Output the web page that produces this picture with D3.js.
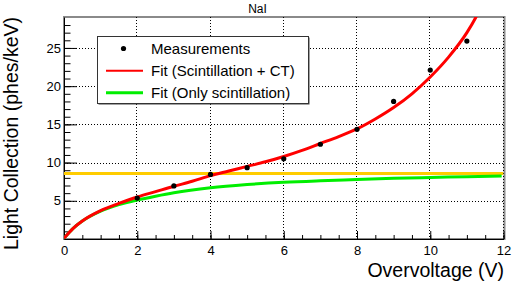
<!DOCTYPE html>
<html><head><meta charset="utf-8">
<script src="https://cdn.jsdelivr.net/npm/d3@7"></script>
<style>
html,body{margin:0;padding:0;background:#fff;}
svg{display:block;font-family:"Liberation Sans",Arial,sans-serif;}
</style></head>
<body>
<svg id="c" width="515" height="284"></svg>
<script>
// ---- data ----
const title = "NaI";
const xLabel = "Overvoltage (V)";
const yLabel = "Light Collection (phes/keV)";
const measX = [2, 3, 4, 5, 6, 7, 8, 9, 10, 11];
const measY = [5.35, 6.95, 8.45, 9.33, 10.5, 12.4, 14.35, 18.0, 22.1, 25.9];
const fitCtX = [0, 0.25, 0.5, 1, 1.5, 2, 2.5, 3, 3.5, 4, 4.5, 5, 5.5, 6, 6.5, 7, 7.5, 8, 8.5, 9, 9.5, 10, 10.5, 11, 11.25, 11.45];
const fitCtY = [0.1, 1.4, 2.35, 3.7, 4.65, 5.5, 6.2, 6.9, 7.55, 8.3, 8.9, 9.5, 10.1, 10.8, 11.6, 12.5, 13.4, 14.4, 15.7, 17.2, 19.0, 21.2, 23.8, 27.0, 29.05, 31.0];
const fitScX = [0, 0.25, 0.5, 1, 1.5, 2, 2.5, 3, 4, 5, 6, 7, 8, 9, 10, 11, 11.95];
const fitScY = [0.1, 1.4, 2.35, 3.65, 4.5, 5.1, 5.6, 6.05, 6.7, 7.12, 7.42, 7.62, 7.78, 7.95, 8.05, 8.15, 8.24];
const constY = [8.57];
const xMajor = [0, 2, 4, 6, 8, 10, 12];
const yMajor = [5, 10, 15, 20, 25];
const legendLabels = ["Measurements", "Fit (Scintillation + CT)", "Fit (Only scintillation)"];

// ---- layout ----
const svg = d3.select("#c");
const L = 64, R = 503.5, T = 17, B = 239;
const x = d3.scaleLinear().domain([0, 12]).range([L, R]);
const y = d3.scaleLinear().domain([0, 29.05]).range([B, T]);

svg.append("defs").append("clipPath").attr("id", "clip")
  .append("rect").attr("x", L).attr("y", T).attr("width", R - L).attr("height", B - T);

// frame border (grey)
svg.append("rect").attr("x", L).attr("y", T).attr("width", R - L + 1).attr("height", B - T)
  .attr("fill", "none").attr("stroke", "#8a8a8a").attr("stroke-width", 2);

// grid
const grid = svg.append("g").attr("stroke", "#000").attr("stroke-width", 1).attr("stroke-dasharray", "1,2");
grid.selectAll(".gx").data(xMajor.filter(d => d > 0)).join("line")
  .attr("x1", d => Math.round(x(d)) - 0.5).attr("x2", d => Math.round(x(d)) - 0.5)
  .attr("y1", T).attr("y2", B);
grid.selectAll(".gy").data(yMajor).join("line")
  .attr("y1", d => Math.round(y(d)) + 0.5).attr("y2", d => Math.round(y(d)) + 0.5)
  .attr("x1", L).attr("x2", R);

// axes
const xMinor = d3.range(0, 12.001, 0.5);
const yMinorT = d3.range(1, 29, 1);
const ax = svg.append("g").attr("transform", `translate(0,${B})`);
ax.call(d3.axisBottom(x).tickValues(xMinor).tickSize(-4).tickSizeOuter(0).tickFormat(""));
ax.call(g => g.selectAll("text").remove());
const ax2 = svg.append("g").attr("transform", `translate(0,${B})`)
  .call(d3.axisBottom(x).tickValues(xMajor).tickSize(-8).tickSizeOuter(0).tickPadding(4).tickFormat(d3.format("d")));
ax2.select(".domain").remove();
ax2.selectAll("text").attr("font-size", 13).attr("font-family", "Liberation Sans, Arial, sans-serif").attr("fill", "#000").attr("dy", "0.95em");

const ay = svg.append("g").attr("transform", `translate(${L},0)`);
ay.call(d3.axisLeft(y).tickValues(yMinorT).tickSize(-6.5).tickSizeOuter(0).tickFormat(""));
const ay2 = svg.append("g").attr("transform", `translate(${L},0)`)
  .call(d3.axisLeft(y).tickValues(yMajor).tickSize(-13).tickSizeOuter(0).tickPadding(3).tickFormat(d3.format("d")));
ay2.select(".domain").remove();
ay2.selectAll("text").attr("font-size", 13).attr("font-family", "Liberation Sans, Arial, sans-serif").attr("fill", "#000");
svg.selectAll(".tick line").attr("stroke", "#000");
svg.selectAll(".domain").attr("stroke", "#000");

// plot content
const plot = svg.append("g").attr("clip-path", "url(#clip)");
plot.append("line").attr("x1", x(0)).attr("x2", x(12)).attr("y1", y(constY[0])).attr("y2", y(constY[0]))
  .attr("stroke", "#ffcc00").attr("stroke-width", 3);
const line = d3.line().curve(d3.curveMonotoneX).x(d => x(d[0])).y(d => y(d[1]));
plot.append("path").datum(d3.zip(fitScX, fitScY)).attr("d", line)
  .attr("fill", "none").attr("stroke", "#00ee00").attr("stroke-width", 3);
plot.append("path").datum(d3.zip(fitCtX, fitCtY)).attr("d", line)
  .attr("fill", "none").attr("stroke", "#ff0000").attr("stroke-width", 3);
plot.selectAll(".pt").data(d3.zip(measX, measY)).join("circle")
  .attr("cx", d => x(d[0])).attr("cy", d => y(d[1])).attr("r", 2.6).attr("fill", "#000");

// legend
const lg = svg.append("g");
lg.append("rect").attr("x", 98.5).attr("y", 37.5).attr("width", 211).attr("height", 67)
  .attr("fill", "#444");
lg.append("rect").attr("x", 97.5).attr("y", 36.5).attr("width", 211).attr("height", 67)
  .attr("fill", "#fff").attr("stroke", "#333").attr("stroke-width", 1);
const rows = [48.5, 70.7, 92.7];
lg.append("circle").attr("cx", 123.5).attr("cy", rows[0]).attr("r", 2.6).attr("fill", "#000");
lg.append("line").attr("x1", 106).attr("x2", 143).attr("y1", rows[1]).attr("y2", rows[1]).attr("stroke", "#ff0000").attr("stroke-width", 2);
lg.append("line").attr("x1", 106).attr("x2", 143).attr("y1", rows[2]).attr("y2", rows[2]).attr("stroke", "#00ee00").attr("stroke-width", 3);
lg.selectAll(".lt").data(legendLabels).join("text")
  .attr("x", 151).attr("y", (d, i) => rows[i] + 5.3).attr("font-size", 15).attr("fill", "#000").text(d => d);

// titles
svg.append("text").attr("x", 257.5).attr("y", 12.5).attr("text-anchor", "middle").attr("font-size", 12).text(title);
svg.append("text").attr("x", 504).attr("y", 276.5).attr("text-anchor", "end").attr("font-size", 19.5).text(xLabel);
svg.append("text").attr("transform", "translate(17.5,17) rotate(-90)").attr("text-anchor", "end").attr("font-size", 19.5).text(yLabel);
</script>
</body></html>
